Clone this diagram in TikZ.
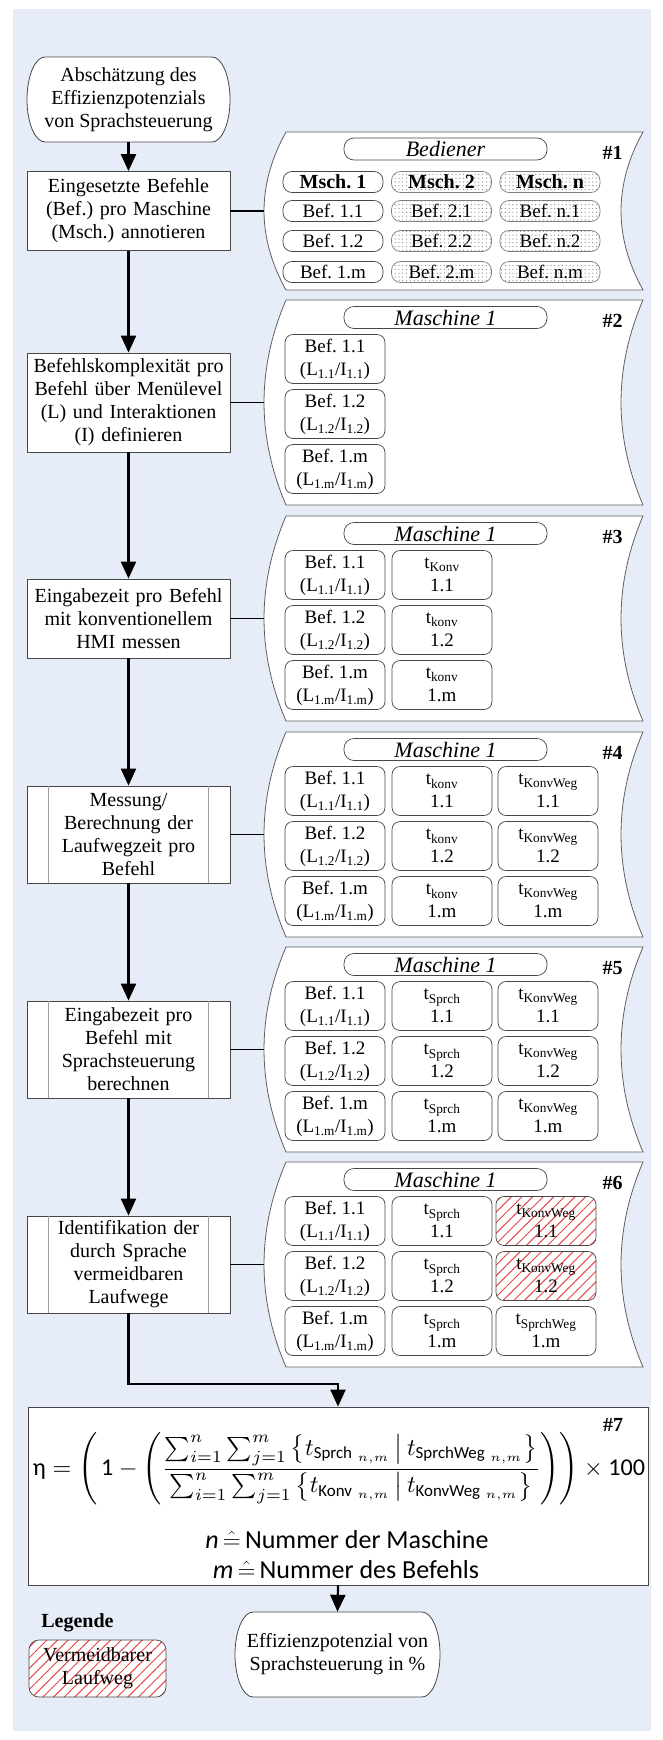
\documentclass[tikz,border=0pt]{standalone}
\usepackage{fontspec}
\usepackage{amsmath}
\usepackage{graphicx}
\setmainfont{Liberation Serif}
\newfontfamily\calib{Carlito}
\usetikzlibrary{arrows.meta,patterns.meta,calc}
\definecolor{bgblue}{RGB}{231,237,248}
\definecolor{edge}{RGB}{70,70,70}
\definecolor{pedge}{RGB}{95,95,95}
\definecolor{inl}{RGB}{160,160,160}
\definecolor{hatchred}{RGB}{232,70,70}
\frenchspacing
\newcommand\tsb[1]{t_{\text{\calib #1}\;{}_{n,m}}}
\newcommand\panelshape[2]{%
  \draw[panelline] (286,#1) -- (643,#1)
   .. controls (613.7,{#1+(#2-#1)/3}) and (613.7,{#2-(#2-#1)/3}) .. (643,#2)
   -- (286,#2)
   .. controls (256.7,{#2-(#2-#1)/3}) and (256.7,{#1+(#2-#1)/3}) .. (286,#1) -- cycle;}
\newcommand\termshape[5]{%
  \draw[termline] ({#1-#3+#5},{#2-#4}) -- ({#1+#3-#5},{#2-#4})
  .. controls ({#1+#3-#5+0.5523*#5},{#2-#4}) and ({#1+#3},{#2-0.5523*#4}) .. ({#1+#3},{#2})
  .. controls ({#1+#3},{#2+0.5523*#4}) and ({#1+#3-#5+0.5523*#5},{#2+#4}) .. ({#1+#3-#5},{#2+#4})
  -- ({#1-#3+#5},{#2+#4})
  .. controls ({#1-#3+#5-0.5523*#5},{#2+#4}) and ({#1-#3},{#2+0.5523*#4}) .. ({#1-#3},{#2})
  .. controls ({#1-#3},{#2-0.5523*#4}) and ({#1-#3+#5-0.5523*#5},{#2-#4}) .. ({#1-#3+#5},{#2-#4}) -- cycle;}
\begin{document}
\begin{tikzpicture}[x=1pt,y=-1pt,
  lbox/.style={draw=edge,fill=white,line width=0.8pt,minimum width=203pt,text width=199pt,align=center,inner sep=1pt,font=\fontsize{20}{23}\selectfont},
  ttext/.style={minimum width=203pt,minimum height=85pt,inner sep=0pt,align=center,font=\fontsize{20}{23}\selectfont},
  termline/.style={draw=edge,fill=white,line width=0.8pt},
  panelline/.style={draw=pedge,fill=white,line width=0.8pt},
  hpill/.style={draw=edge,line width=0.7pt,rounded corners=10pt,minimum width=203pt,minimum height=22pt,inner sep=0pt,font=\fontsize{22}{24}\selectfont\itshape},
  pill/.style={draw=edge,line width=0.7pt,rounded corners=9pt,minimum width=100pt,minimum height=21pt,inner sep=0pt,font=\fontsize{19}{21}\selectfont},
  bfnt/.style={font=\fontsize{20}{21}\selectfont\bfseries},
  dpill/.style={pill,draw=gray,pattern={Dots[radius=0.6pt,distance=3.8pt]},pattern color=gray},
  cell/.style={draw=edge,line width=0.7pt,rounded corners=8pt,minimum width=100pt,minimum height=49pt,inner sep=0pt,align=center,font=\fontsize{19}{23}\selectfont},
  hcell/.style={cell,pattern={Lines[angle=45,distance=7.5pt,line width=1pt]},pattern color=hatchred},
  num/.style={font=\fontsize{20}{22}\selectfont\bfseries,inner sep=0pt},
  conn/.style={line width=1.8pt},
  arr/.style={line width=2.2pt,-{Triangle[width=15pt,length=17pt]}},
  inner/.style={draw=inl,line width=0.7pt}
]
\useasboundingbox (0,0) rectangle (662,1740);
\fill[white] (0,0) rectangle (662,1740);
\fill[bgblue] (13,9) rectangle (651,1731);

% ---------- start terminal
\termshape{128.5}{99.5}{101.5}{42.5}{18}
\node[ttext] (t1) at (128.5,99.5) {Abschätzung des\\Effizienzpotenzials\\von Sprachsteuerung};

% ---------- left process boxes
\node[lbox,minimum height=79pt] (b1) at (128.5,211) {Eingesetzte Befehle\\(Bef.) pro Maschine\\(Msch.) annotieren};
\node[lbox,minimum height=99pt] (b2) at (128.5,402.5) {Befehlskomplexität pro\\Befehl über Menülevel\\(L) und Interaktionen\\(I) definieren};
\node[lbox,minimum height=79pt] (b3) at (128.5,618.5) {Eingabezeit pro Befehl\\mit konventionellem\\HMI messen};
\node[lbox,minimum height=97pt] (b4) at (128.5,834.5) {Messung/\\Berechnung der\\Laufwegzeit pro\\Befehl};
\node[lbox,minimum height=97pt] (b5) at (128.5,1049.5) {Eingabezeit pro\\Befehl mit\\Sprachsteuerung\\berechnen};
\node[lbox,minimum height=97pt] (b6) at (128.5,1264.5) {Identifikation der\\durch Sprache\\vermeidbaren\\Laufwege};
\foreach \b in {b4,b5,b6}{
  \draw[inner] ([xshift=22pt]\b.north west) -- ([xshift=22pt]\b.south west);
  \draw[inner] ([xshift=-22pt]\b.north east) -- ([xshift=-22pt]\b.south east);
}

% ---------- panel 1
\panelshape{132}{290}
\coordinate (p1) at (264,211);
\node[hpill] (h1) at (445.5,149) {Bediener};
\node[num] (n1) at (612.5,153) {\#1};
\node[pill,bfnt] (m11) at (333,182) {Msch. 1};
\node[dpill,bfnt] (m12) at (441.5,182) {Msch. 2};
\node[dpill,bfnt] (m13) at (550,182) {Msch. n};
\node[pill] (a11) at (333,211) {Bef. 1.1};
\node[dpill] (a12) at (441.5,211) {Bef. 2.1};
\node[dpill] (a13) at (550,211) {Bef. n.1};
\node[pill] (a21) at (333,241) {Bef. 1.2};
\node[dpill] (a22) at (441.5,241) {Bef. 2.2};
\node[dpill] (a23) at (550,241) {Bef. n.2};
\node[pill] (a31) at (333,272) {Bef. 1.m};
\node[dpill] (a32) at (441.5,272) {Bef. 2.m};
\node[dpill] (a33) at (550,272) {Bef. n.m};

% ---------- panel 2
\panelshape{300}{505}
\coordinate (p2) at (264,402.5);
\node[hpill] (h2) at (445.5,317.5) {Maschine 1};
\node[num] (n2) at (612.5,321) {\#2};
\node[cell] (c211) at (335,359) {Bef. 1.1\\(L\textsubscript{1.1}/I\textsubscript{1.1})};
\node[cell] (c221) at (335,414) {Bef. 1.2\\(L\textsubscript{1.2}/I\textsubscript{1.2})};
\node[cell] (c231) at (335,469) {Bef. 1.m\\(L\textsubscript{1.m}/I\textsubscript{1.m})};

% ---------- panel 3
\panelshape{516}{721}
\coordinate (p3) at (264,618.5);
\node[hpill] (h3) at (445.5,533.5) {Maschine 1};
\node[num] (n3) at (612.5,537) {\#3};
\node[cell] (c311) at (335,575) {Bef. 1.1\\(L\textsubscript{1.1}/I\textsubscript{1.1})};
\node[cell] (c321) at (335,630) {Bef. 1.2\\(L\textsubscript{1.2}/I\textsubscript{1.2})};
\node[cell] (c331) at (335,685) {Bef. 1.m\\(L\textsubscript{1.m}/I\textsubscript{1.m})};
\node[cell] (c312) at (442,575) {t\textsubscript{Konv}\\1.1};
\node[cell] (c322) at (442,630) {t\textsubscript{konv}\\1.2};
\node[cell] (c332) at (442,685) {t\textsubscript{konv}\\1.m};

% ---------- panel 4
\panelshape{732}{937}
\coordinate (p4) at (264,834.5);
\node[hpill] (h4) at (445.5,749.5) {Maschine 1};
\node[num] (n4) at (612.5,753) {\#4};
\node[cell] (c411) at (335,791) {Bef. 1.1\\(L\textsubscript{1.1}/I\textsubscript{1.1})};
\node[cell] (c421) at (335,846) {Bef. 1.2\\(L\textsubscript{1.2}/I\textsubscript{1.2})};
\node[cell] (c431) at (335,901) {Bef. 1.m\\(L\textsubscript{1.m}/I\textsubscript{1.m})};
\node[cell] (c412) at (442,791) {t\textsubscript{konv}\\1.1};
\node[cell] (c422) at (442,846) {t\textsubscript{konv}\\1.2};
\node[cell] (c432) at (442,901) {t\textsubscript{konv}\\1.m};
\node[cell] (c413) at (548,791) {t\textsubscript{KonvWeg}\\1.1};
\node[cell] (c423) at (548,846) {t\textsubscript{KonvWeg}\\1.2};
\node[cell] (c433) at (548,901) {t\textsubscript{KonvWeg}\\1.m};

% ---------- panel 5
\panelshape{947}{1152}
\coordinate (p5) at (264,1049.5);
\node[hpill] (h5) at (445.5,964.5) {Maschine 1};
\node[num] (n5) at (612.5,968) {\#5};
\node[cell] (c511) at (335,1006) {Bef. 1.1\\(L\textsubscript{1.1}/I\textsubscript{1.1})};
\node[cell] (c521) at (335,1061) {Bef. 1.2\\(L\textsubscript{1.2}/I\textsubscript{1.2})};
\node[cell] (c531) at (335,1116) {Bef. 1.m\\(L\textsubscript{1.m}/I\textsubscript{1.m})};
\node[cell] (c512) at (442,1006) {t\textsubscript{Sprch}\\1.1};
\node[cell] (c522) at (442,1061) {t\textsubscript{Sprch}\\1.2};
\node[cell] (c532) at (442,1116) {t\textsubscript{Sprch}\\1.m};
\node[cell] (c513) at (548,1006) {t\textsubscript{KonvWeg}\\1.1};
\node[cell] (c523) at (548,1061) {t\textsubscript{KonvWeg}\\1.2};
\node[cell] (c533) at (548,1116) {t\textsubscript{KonvWeg}\\1.m};

% ---------- panel 6
\panelshape{1162}{1367}
\coordinate (p6) at (264,1264.5);
\node[hpill] (h6) at (445.5,1179.5) {Maschine 1};
\node[num] (n6) at (612.5,1183) {\#6};
\node[cell] (c611) at (335,1221) {Bef. 1.1\\(L\textsubscript{1.1}/I\textsubscript{1.1})};
\node[cell] (c621) at (335,1276) {Bef. 1.2\\(L\textsubscript{1.2}/I\textsubscript{1.2})};
\node[cell] (c631) at (335,1331) {Bef. 1.m\\(L\textsubscript{1.m}/I\textsubscript{1.m})};
\node[cell] (c612) at (442,1221) {t\textsubscript{Sprch}\\1.1};
\node[cell] (c622) at (442,1276) {t\textsubscript{Sprch}\\1.2};
\node[cell] (c632) at (442,1331) {t\textsubscript{Sprch}\\1.m};
\node[hcell] (c613) at (546,1221) {t\textsubscript{KonvWeg}\\1.1};
\node[hcell] (c623) at (546,1276) {t\textsubscript{KonvWeg}\\1.2};
\node[cell] (c633) at (546,1331) {t\textsubscript{SprchWeg}\\1.m};

% ---------- formula box
\node[draw=edge,fill=white,line width=0.8pt,minimum width=620pt,minimum height=178pt,inner sep=0pt] (f7) at (338,1496) {};
\node[num] (n7) at (613,1425) {\#7};
\node[inner sep=0pt] (feq) at (339,1469) {\resizebox{612pt}{!}{$\displaystyle
 \text{\calib η} = \left(\,\text{\calib 1} - \left(\frac{\sum_{i=1}^{n}\sum_{j=1}^{m}\left\{\tsb{Sprch}\,\middle|\,\tsb{SprchWeg}\right\}}{\sum_{i=1}^{n}\sum_{j=1}^{m}\left\{\tsb{Konv}\,\middle|\,\tsb{KonvWeg}\right\}}\right)\right)\times\text{\calib 100}$}};
\node[inner sep=0pt,font=\calib\fontsize{26}{28}\selectfont] (fn) at (347,1540) {\textit{n}$\,\hat{=}\,$Nummer der Maschine};
\node[inner sep=0pt,font=\calib\fontsize{26}{28}\selectfont] (fm) at (346,1570) {\textit{m}$\,\hat{=}\,$Nummer des Befehls};

% ---------- end terminal
\termshape{337.5}{1654.5}{102.5}{42.5}{18}
\node[ttext,minimum width=205pt] (t2) at (337.5,1654.5) {Effizienzpotenzial von\\Sprachsteuerung in \%};

% ---------- legend
\node[font=\fontsize{20}{22}\selectfont\bfseries,inner sep=0pt] (leg) at (77.5,1623) {Legende};
\node[hcell,preaction={fill=white},minimum width=137pt,minimum height=57pt,rounded corners=10pt,font=\fontsize{20}{23}\selectfont] (legbox) at (97.5,1668.5) {Vermeidbarer\\Laufweg};

% ---------- connectors
\draw[arr] (t1.south) -- (b1.north);
\draw[arr] (b1.south) -- (b2.north);
\draw[arr] (b2.south) -- (b3.north);
\draw[arr] (b3.south) -- (b4.north);
\draw[arr] (b4.south) -- (b5.north);
\draw[arr] (b5.south) -- (b6.north);
\coordinate (k6) at (128.5,1384);
\draw[arr] (b6.south) -- (k6) -| (f7.north);
\draw[arr] (f7.south) -- (t2.north);
\draw[conn] (b1.east) -- (p1);
\draw[conn] (b2.east) -- (p2);
\draw[conn] (b3.east) -- (p3);
\draw[conn] (b4.east) -- (p4);
\draw[conn] (b5.east) -- (p5);
\draw[conn] (b6.east) -- (p6);
\end{tikzpicture}
\end{document}
